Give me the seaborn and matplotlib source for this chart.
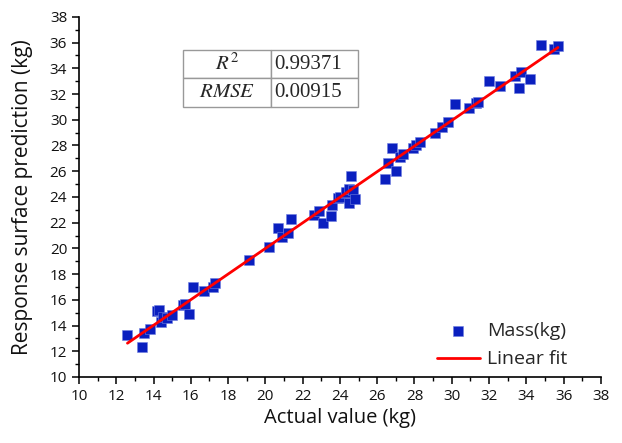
import numpy as np
import pandas as pd
import matplotlib
matplotlib.use("Agg")
import matplotlib.pyplot as plt
import seaborn as sns

# Actual vs predicted mass (kg)
actual = [12.6, 13.4, 13.5, 13.8, 14.2, 14.3, 14.4, 14.5, 14.7, 15.0,
          15.6, 15.7, 15.9, 16.1, 16.7, 17.2, 17.3, 19.1, 20.2, 20.7,
          20.9, 21.2, 21.4, 22.6, 22.9, 23.1, 23.5, 23.6, 23.9, 24.0,
          24.3, 24.3, 24.5, 24.5, 24.6, 24.7, 24.8, 26.4, 26.6, 26.8,
          27.0, 27.2, 27.4, 27.9, 28.1, 28.3, 29.1, 29.5, 29.8, 30.2,
          30.9, 31.3, 31.4, 32.0, 32.6, 33.4, 33.6, 33.7, 34.2, 34.8,
          35.5, 35.7]
predicted = [13.3, 12.3, 13.4, 13.7, 15.1, 15.2, 14.3, 14.7, 14.6, 14.8,
             15.6, 15.7, 14.9, 17.0, 16.7, 17.0, 17.3, 19.1, 20.1, 21.6,
             20.9, 21.2, 22.3, 22.6, 22.9, 22.0, 22.5, 23.4, 23.9, 24.0,
             24.3, 24.4, 23.5, 24.6, 25.6, 24.5, 23.8, 25.4, 26.6, 27.8,
             26.0, 27.1, 27.3, 27.8, 28.0, 28.3, 29.0, 29.4, 29.8, 31.2,
             30.9, 31.3, 31.4, 33.0, 32.6, 33.4, 32.5, 33.7, 33.2, 35.8,
             35.5, 35.7]
stats_names = ["$R^2$", "$RMSE$"]
stats_values = ["0.99371", "0.00915"]

df = pd.DataFrame({"actual": actual, "predicted": predicted})
coef = np.polyfit(df["actual"], df["predicted"], 1)
fit_x = np.array([df["actual"].min(), df["actual"].max()])
fit = pd.DataFrame({"x": fit_x, "y": np.polyval(coef, fit_x)})

sns.set_style("ticks")
plt.rcParams["font.family"] = ["Open Sans", "DejaVu Sans"]
plt.rcParams["mathtext.fontset"] = "stix"

fig, ax = plt.subplots(figsize=(6.22, 4.43), dpi=100)
fig.subplots_adjust(left=0.127, right=0.966, top=0.962, bottom=0.149)

sns.scatterplot(data=df, x="actual", y="predicted", marker="s", s=55,
                color="#0a1fbf", edgecolor="#6f7fe0", linewidth=0.4,
                label="Mass(kg)", ax=ax, zorder=2)
sns.lineplot(data=fit, x="x", y="y", color="#ff0000", linewidth=2,
             label="Linear fit", ax=ax, zorder=3)

ax.set_xlim(10, 38)
ax.set_ylim(10, 38)
ax.set_xticks(np.arange(10, 39, 2))
ax.set_yticks(np.arange(10, 39, 2))
ax.set_xticks(np.arange(11, 38, 2), minor=True)
ax.set_yticks(np.arange(11, 38, 2), minor=True)
ax.tick_params(which="major", direction="out", length=5, width=1.1,
               labelsize=11, color="black", labelcolor="#111111")
ax.tick_params(which="minor", direction="out", length=3, width=1.0,
               color="black")
for s in ["left", "bottom"]:
    ax.spines[s].set_linewidth(1.2)
    ax.spines[s].set_color("black")
sns.despine(ax=ax)

ax.set_xlabel("Actual value (kg)", fontsize=14.5, labelpad=3,
              color="#111111")
ax.set_ylabel("Response surface prediction (kg)", fontsize=15,
              labelpad=12, color="#111111")

leg = ax.legend(loc="lower right", frameon=False, fontsize=14,
                bbox_to_anchor=(0.97, -0.025), handlelength=2.2,
                handletextpad=0.4, labelspacing=0.55)

tab = ax.table(cellText=[[n, v] for n, v in zip(stats_names, stats_values)],
               bbox=[0.2, 0.75, 0.335, 0.158], cellLoc="center")
tab.auto_set_font_size(False)
for (r, c), cell in tab.get_celld().items():
    cell.set_edgecolor("#999999")
    cell.set_linewidth(1.0)
    cell.get_text().set_fontsize(15)
    cell.get_text().set_fontfamily("Liberation Serif")
    if c == 1:
        cell.get_text().set_ha("left")
        cell.PAD = 0.04

fig.savefig("out.png", dpi=100)
